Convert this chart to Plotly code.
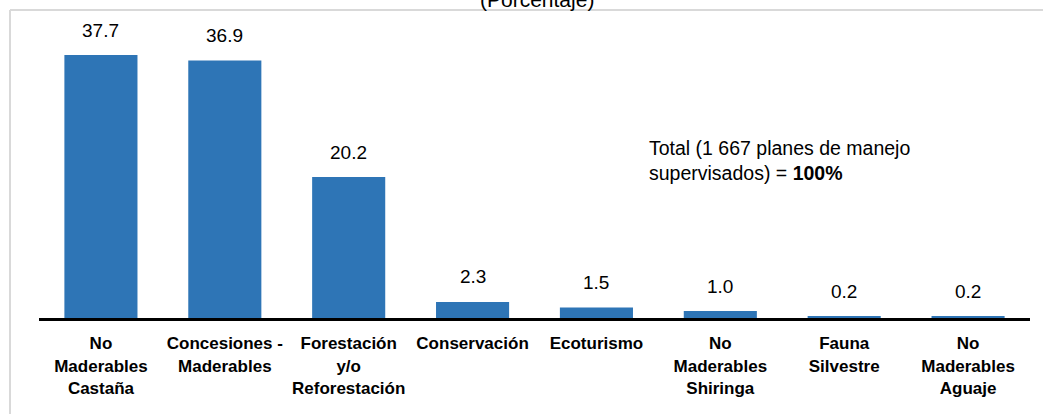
import plotly.graph_objects as go

categories = ["No<br>Maderables<br>Castaña", "Concesiones -<br>Maderables",
              "Forestación<br>y/o<br>Reforestación", "Conservación", "Ecoturismo",
              "No<br>Maderables<br>Shiringa", "Fauna<br>Silvestre", "No<br>Maderables<br>Aguaje"]
values = [37.7, 36.9, 20.2, 2.3, 1.5, 1.0, 0.2, 0.2]
value_labels = [f"{v:.1f}" for v in values]
title_text = "(Porcentaje)"
note_lines = ["Total (1 667 planes de manejo", "supervisados) = <b>100%</b>"]

FONT = "Liberation Sans, Arial, sans-serif"
BAR = "#2E75B6"

# plot area in pixels
L, R, T, B = 39, 13, 25, 96
W, H = 1043, 414
PW, PH = W - L - R, H - T - B


def px_x(p):
    return (p - L) / PW


def px_y(p):
    return (H - B - p) / PH


fig = go.Figure()
fig.add_trace(go.Bar(x=categories, y=values, marker_color=BAR, width=0.59,
                     marker_line_width=0, hoverinfo="skip"))

for c, v, t in zip(categories, values, value_labels):
    fig.add_annotation(x=c, y=v, text=t, showarrow=False, yanchor="middle",
                       yshift=25, font=dict(family=FONT, size=19, color="#000000"))

fig.add_annotation(xref="paper", yref="paper", x=px_x(537), y=px_y(-1), text=title_text,
                   showarrow=False, yanchor="middle",
                   font=dict(family=FONT, size=21, color="#000000"))

for i, line in enumerate(note_lines):
    fig.add_annotation(xref="paper", yref="paper", x=px_x(647), y=px_y(148 + 25 * i),
                       text=line, showarrow=False, xanchor="left", yanchor="middle",
                       align="left", font=dict(family=FONT, size=19.5, color="#000000"))

# light frame (top and left edges) around the chart
fig.add_shape(type="line", xref="paper", yref="paper",
              x0=px_x(10), x1=px_x(1060), y0=px_y(10), y1=px_y(10),
              line=dict(color="#D9D9D9", width=2), layer="above")
fig.add_shape(type="line", xref="paper", yref="paper",
              x0=px_x(10), x1=px_x(10), y0=px_y(10), y1=px_y(430),
              line=dict(color="#D9D9D9", width=2), layer="above")

fig.update_layout(
    width=W, height=H,
    margin=dict(l=L, r=R, t=T, b=B),
    paper_bgcolor="white", plot_bgcolor="white",
    showlegend=False, bargap=0.41,
    font=dict(family=FONT, color="#000000"),
)
fig.update_xaxes(showline=True, linecolor="#000000", linewidth=3, automargin=False,
                 ticks="outside", ticklen=8, tickcolor="rgba(0,0,0,0)",
                 tickfont=dict(family=FONT, size=17, color="#000000", weight="bold"),
                 showgrid=False, tickangle=0)
fig.update_yaxes(range=[0, 42], visible=False, showgrid=False, automargin=False)

fig.write_html("out.html", config={"displayModeBar": False},
               post_script="document.body.style.margin='0';document.body.style.overflow='hidden';")
